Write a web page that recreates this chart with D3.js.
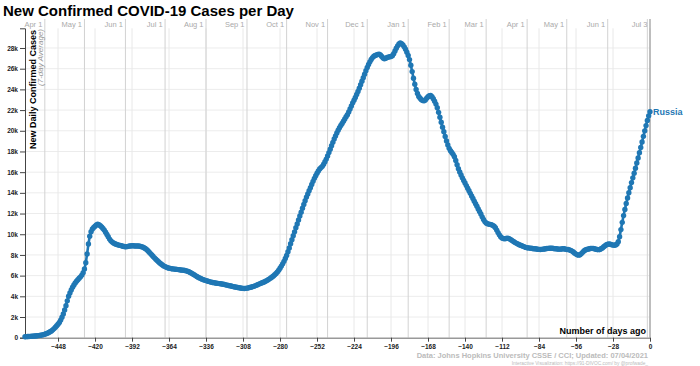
<!DOCTYPE html>
<html>
<head>
<meta charset="utf-8">
<script src="https://cdn.jsdelivr.net/npm/d3@7"></script>
<style>
    body { margin: 0; background: #fff; }
    svg { font-family: "Liberation Sans", Arial, Helvetica, sans-serif; }
</style>
</head>
<body>
<svg id="chart" width="700" height="366"></svg>
<script>
// data: 7-day average of new confirmed cases, Russia, one value per day
// first value is 473 days before the last day (Jul 3, 2021)
var firstDay = -473;
var cases = [
    90, 100, 110, 120, 125, 140, 150, 160, 170, 190,
    200, 220, 240, 270, 300, 340, 390, 440, 500, 570,
    650, 760, 880, 1010, 1150, 1300, 1480, 1700, 1980, 2300,
    2680, 3100, 3560, 4000, 4330, 4620, 4880, 5100, 5280, 5450,
    5600, 5750, 5880, 6050, 6280, 6650, 7250, 8100, 9050, 9800,
    10250, 10500, 10650, 10780, 10900, 10980, 10920, 10830, 10700, 10560,
    10400, 10200, 9980, 9750, 9530, 9360, 9240, 9150, 9080, 9030,
    8990, 8950, 8920, 8880, 8840, 8810, 8790, 8800, 8830, 8860,
    8870, 8880, 8880, 8870, 8860, 8870, 8860, 8840, 8800, 8760,
    8700, 8620, 8520, 8400, 8270, 8130, 7990, 7850, 7720, 7590,
    7460, 7340, 7230, 7120, 7020, 6940, 6870, 6810, 6760, 6720,
    6700, 6670, 6650, 6630, 6610, 6600, 6580, 6570, 6550, 6530,
    6520, 6490, 6460, 6420, 6370, 6310, 6240, 6160, 6080, 6000,
    5920, 5850, 5780, 5720, 5660, 5610, 5560, 5520, 5480, 5440,
    5400, 5370, 5340, 5320, 5290, 5270, 5250, 5230, 5210, 5190,
    5160, 5140, 5110, 5080, 5050, 5020, 4990, 4960, 4930, 4900,
    4880, 4850, 4830, 4800, 4780, 4770, 4760, 4770, 4790, 4820,
    4850, 4880, 4920, 4960, 5010, 5060, 5120, 5180, 5230, 5280,
    5330, 5390, 5450, 5520, 5600, 5690, 5780, 5870, 5970, 6080,
    6210, 6360, 6530, 6720, 6920, 7140, 7380, 7650, 7950, 8300,
    8680, 9080, 9470, 9850, 10230, 10620, 11000, 11380, 11760, 12130,
    12510, 12880, 13240, 13590, 13900, 14200, 14500, 14810, 15110, 15400,
    15660, 15900, 16110, 16300, 16440, 16560, 16760, 17000, 17260, 17560,
    17890, 18220, 18550, 18880, 19200, 19500, 19790, 20050, 20300, 20510,
    20710, 20920, 21140, 21350, 21560, 21820, 22100, 22400, 22700, 22960,
    23220, 23500, 23800, 24120, 24450, 24780, 25120, 25470, 25800, 26110,
    26400, 26660, 26890, 27070, 27200, 27270, 27320, 27380, 27400, 27330,
    27190, 27040, 26960, 27000, 27080, 27120, 27150, 27180, 27260, 27450,
    27720, 27980, 28210, 28390, 28480, 28420, 28290, 28110, 27880, 27600,
    27280, 26880, 26340, 25720, 25080, 24500, 24000, 23600, 23320, 23140,
    23010, 22920, 22900, 22980, 23140, 23290, 23390, 23410, 23300, 23100,
    22860, 22580, 22220, 21780, 21300, 20820, 20350, 19900, 19450, 19020,
    18630, 18300, 18070, 17900, 17720, 17490, 17130, 16720, 16340, 16010,
    15720, 15450, 15200, 14950, 14700, 14450, 14200, 13950, 13700, 13450,
    13200, 12950, 12700, 12450, 12200, 11950, 11680, 11420, 11220, 11090,
    11020, 10980, 10950, 10910, 10860, 10780, 10620, 10400, 10160, 9940,
    9760, 9640, 9580, 9560, 9590, 9610, 9590, 9530, 9450, 9360,
    9270, 9190, 9120, 9050, 8990, 8930, 8880, 8830, 8780, 8730,
    8700, 8680, 8660, 8640, 8620, 8600, 8590, 8570, 8550, 8540,
    8530, 8540, 8560, 8580, 8600, 8620, 8630, 8640, 8650, 8640,
    8620, 8600, 8590, 8570, 8560, 8560, 8580, 8600, 8590, 8560,
    8530, 8520, 8490, 8440, 8370, 8280, 8170, 8080, 8010, 7980,
    8020, 8120, 8250, 8380, 8470, 8520, 8560, 8590, 8620, 8630,
    8620, 8590, 8550, 8520, 8510, 8530, 8590, 8680, 8790, 8890,
    8980, 9040, 9060, 9030, 8980, 8950, 8940, 8960, 9050, 9280,
    9750, 10450, 11150, 11800, 12400, 12980, 13500, 14010, 14500, 14990,
    15450, 15900, 16380, 16880, 17380, 17880, 18390, 18920, 19460, 19990,
    20500, 20990, 21440, 21850
];
var countryName = "Russia";

// tick values
var xTickValues = [-448, -420, -392, -364, -336, -308, -280, -252, -224, -196, -168, -140, -112, -84, -56, -28, 0];
var yTickValues = [0, 2000, 4000, 6000, 8000, 10000, 12000, 14000, 16000, 18000, 20000, 22000, 24000, 26000, 28000];
var monthDates = ["2020-04-01", "2020-05-01", "2020-06-01", "2020-07-01", "2020-08-01", "2020-09-01",
    "2020-10-01", "2020-11-01", "2020-12-01", "2021-01-01", "2021-02-01", "2021-03-01",
    "2021-04-01", "2021-05-01", "2021-06-01", "2021-07-01"];
var lastDate = "2021-07-03";

var svg = d3.select("#chart");

var margin = {top: 28.3, left: 25, right: 50, bottom: 28.3};
var plotRight = 700 - margin.right;
var plotBottom = 366 - margin.bottom;

var data = cases.map(function (v, i) {
    return {day: firstDay + i, value: v};
});

var xScale = d3.scaleLinear().domain([firstDay, 0]).range([margin.left, plotRight]);
var yScale = d3.scaleLinear().domain([0, d3.max(cases) * 1.05]).range([plotBottom, margin.top]);

var parseDate = d3.utcParse("%Y-%m-%d");
var monthFormat = d3.utcFormat("%b %-d");
var endDate = parseDate(lastDate);
function daysBefore(dateStr) {
    return Math.round((parseDate(dateStr) - endDate) / 86400000);
}

// ---- grid
var grid = svg.append("g").attr("class", "grid");

grid.selectAll("line.hgrid")
    .data(yTickValues.slice(1))
    .enter()
    .append("line")
    .attr("x1", margin.left)
    .attr("x2", plotRight)
    .attr("y1", function (d) { return yScale(d); })
    .attr("y2", function (d) { return yScale(d); })
    .style("stroke", "#ececec")
    .style("stroke-width", 1);

grid.selectAll("line.vgrid")
    .data(xTickValues)
    .enter()
    .append("line")
    .attr("x1", function (d) { return xScale(d); })
    .attr("x2", function (d) { return xScale(d); })
    .attr("y1", margin.top)
    .attr("y2", plotBottom)
    .style("stroke", "#e8e8e8")
    .style("stroke-width", 1);

// month lines with labels on top
var months = grid.selectAll("g.month")
    .data(monthDates)
    .enter()
    .append("g")
    .attr("transform", function (d) {
        return "translate(" + xScale(daysBefore(d)) + ",0)";
    });
months.append("line")
    .attr("y1", 19)
    .attr("y2", plotBottom)
    .style("stroke", "#d2d2d2")
    .style("stroke-width", 1);
months.filter(function (d) { return daysBefore(d) < -5; })
    .append("text")
    .attr("x", -2.5)
    .attr("y", 27)
    .attr("text-anchor", "end")
    .style("font-size", "7.5px")
    .style("fill", "#aaa")
    .text(function (d) { return monthFormat(parseDate(d)); });

// last day marker
grid.append("line")
    .attr("x1", xScale(0))
    .attr("x2", xScale(0))
    .attr("y1", 19)
    .attr("y2", plotBottom)
    .style("stroke", "#999")
    .style("stroke-width", 1.2);
grid.append("text")
    .attr("x", xScale(0) - 2.5)
    .attr("y", 27)
    .attr("text-anchor", "end")
    .style("font-size", "7.5px")
    .style("fill", "#aaa")
    .text(monthFormat(endDate));

// ---- axes
var yAxisG = svg.append("g")
    .attr("class", "yAxisG")
    .attr("transform", "translate(" + margin.left + ",0)")
    .call(d3.axisLeft(yScale)
        .tickValues(yTickValues)
        .tickSize(5)
        .tickSizeOuter(5)
        .tickPadding(2)
        .tickFormat(function (d) { return d === 0 ? "0" : (d / 1000) + "k"; }));

var xAxisG = svg.append("g")
    .attr("class", "xAxisG")
    .attr("transform", "translate(0," + plotBottom + ")")
    .call(d3.axisBottom(xScale)
        .tickValues(xTickValues)
        .tickSize(4)
        .tickSizeOuter(0)
        .tickPadding(3));

svg.selectAll(".yAxisG path, .yAxisG line").style("stroke", "#444");
svg.selectAll(".xAxisG path").style("stroke", "#999").style("stroke-width", 1.5);
svg.selectAll(".xAxisG line").style("stroke", "#444");
svg.selectAll(".yAxisG text, .xAxisG text")
    .style("font-family", "\"Liberation Sans\", Arial, sans-serif")
    .style("font-size", "6.5px")
    .style("font-weight", "bold")
    .style("fill", "#222");

// ---- series
var lineColor = "#1f77b4";
var line = d3.line()
    .x(function (d) { return xScale(d.day); })
    .y(function (d) { return yScale(d.value); });

svg.append("path")
    .datum(data)
    .attr("d", line)
    .style("fill", "none")
    .style("stroke", lineColor)
    .style("stroke-width", 2.6)
    .style("stroke-linejoin", "round");

svg.append("g")
    .selectAll("circle")
    .data(data)
    .enter()
    .append("circle")
    .attr("cx", function (d) { return xScale(d.day); })
    .attr("cy", function (d) { return yScale(d.value); })
    .attr("r", 2.7)
    .style("fill", lineColor);

var last = data[data.length - 1];
svg.append("text")
    .attr("x", xScale(last.day) + 3)
    .attr("y", yScale(last.value) + 3.5)
    .style("font-size", "9px")
    .style("font-weight", "bold")
    .style("fill", lineColor)
    .text(countryName);

// ---- labels
svg.append("text")
    .attr("x", 3)
    .attr("y", 16)
    .style("font-size", "15px")
    .style("font-weight", "bold")
    .style("fill", "#000")
    .text("New Confirmed COVID-19 Cases per Day");

svg.append("text")
    .attr("transform", "translate(35.5,30) rotate(-90)")
    .attr("text-anchor", "end")
    .style("font-size", "9px")
    .style("font-weight", "bold")
    .style("fill", "#000")
    .text("New Daily Confirmed Cases");

svg.append("text")
    .attr("transform", "translate(43,29) rotate(-90)")
    .attr("text-anchor", "end")
    .style("font-size", "8px")
    .style("font-style", "italic")
    .style("fill", "#999")
    .text("(7-day Average)");

svg.append("text")
    .attr("x", 646)
    .attr("y", 333.5)
    .attr("text-anchor", "end")
    .style("font-size", "9px")
    .style("font-weight", "bold")
    .style("fill", "#000")
    .text("Number of days ago");

svg.append("text")
    .attr("x", 648)
    .attr("y", 357.5)
    .attr("text-anchor", "end")
    .style("font-size", "7.5px")
    .style("font-weight", "bold")
    .style("fill", "#bbb")
    .text("Data: Johns Hopkins University CSSE / CCI; Updated: 07/04/2021");

svg.append("text")
    .attr("x", 648)
    .attr("y", 364.5)
    .attr("text-anchor", "end")
    .style("font-size", "4.8px")
    .style("fill", "#bbb")
    .text("Interactive Visualization: https://91-DIVOC.com/ by @profwade_");
</script>
</body>
</html>
